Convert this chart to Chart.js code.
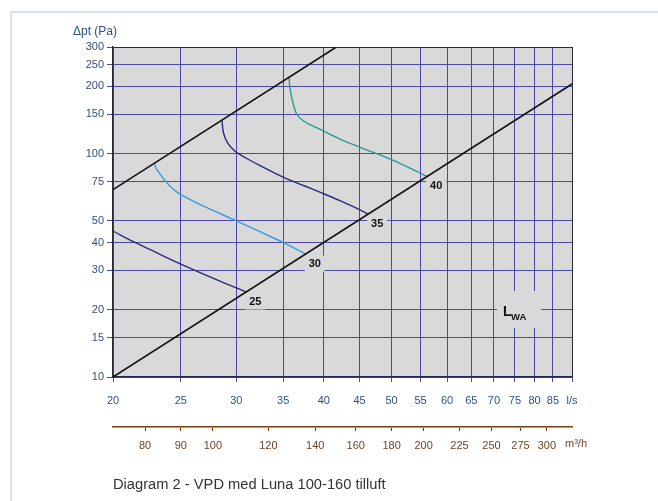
<!DOCTYPE html>
<html><head><meta charset="utf-8">
<script src="https://cdn.jsdelivr.net/npm/chart.js@4"></script>
<style>html,body{margin:0;padding:0;background:#fff;} canvas{display:block}</style>
</head><body>
<canvas id="c" width="658" height="501"></canvas>
<script>
// ---- data ----
const xTicksLs = [20,25,30,35,40,45,50,55,60,65,70,75,80,85];
const xMinLs = 20, xMaxLs = 90.5;
const x2TicksM3h = [80,90,100,120,140,160,180,200,225,250,275,300];
const x2MinM3h = 72, x2MaxM3h = 325.8;
const yTicksPa = [10,15,20,30,40,50,75,100,150,200,250,300];
const yMinPa = 10, yMaxPa = 300;

const lowerLineQ = [20, 90.5];
const lowerLineP = [10, 205];
const upperLineQ = [20, 41.7];
const upperLineP = [69, 300];

const c25Q = [20, 21.5, 23, 25, 28, 31];
const c25P = [45, 40, 36.2, 32, 27.4, 24];
const c30Q = [22.9, 23.1, 23.8, 24.3, 25, 27, 30, 33, 35, 37.7];
const c30P = [90.7, 84.7, 75, 70, 65.5, 58, 50, 43.6, 40, 35.5];
const c35Q = [28.62, 28.76, 29.14, 29.82, 30.92, 32.48, 35, 37.5, 40, 42.5, 45, 46.3];
const c35P = [140.8, 124, 111.9, 103, 95.8, 88.2, 78.4, 71.8, 66.1, 60.9, 56.1, 53.6];
const c40Q = [35.7, 35.77, 36.06, 36.6, 37.3, 38.3, 40, 42.5, 45, 50, 56.2];
const c40P = [218, 200, 174, 150, 141, 134.5, 126, 115, 107, 94, 79];
const curveLabels = ['25','30','35','40'];

const FONT = '"Liberation Sans", Arial, sans-serif';
const BLUE_TXT = '#30507f';
const BROWN_TXT = '#6e4426';
const GRID = '#4a4aa6';
const FRAME = '#2a2a3a';

function pts(q, p){ return q.map((v,i)=>({x:v, y:p[i]})); }

const curves = [
  {q:c25Q, p:c25P, color:'#2b2b7d'},
  {q:c30Q, p:c30P, color:'#3b9be0'},
  {q:c35Q, p:c35P, color:'#2b2b7d'},
  {q:c40Q, p:c40P, color:'#2a9a90'}
];

const datasets = [
  {data:pts(lowerLineQ, lowerLineP), borderColor:'#111', borderWidth:1.6, tension:0},
  {data:pts(upperLineQ, upperLineP), borderColor:'#111', borderWidth:1.6, tension:0},
].concat(curves.map(c=>({data:pts(c.q,c.p), borderColor:c.color, borderWidth:1.4, tension:0.35})));
datasets.forEach(d=>{ d.showLine=true; d.pointRadius=0; d.fill=false; });

function labelBox(chart, i){
  const c = curves[i];
  const n = c.q.length-1;
  const px = chart.scales.x.getPixelForValue(c.q[n]);
  const py = chart.scales.y.getPixelForValue(c.p[n]);
  return {x: px+9, y: py+9.5};
}

const deco = {
  id:'deco',
  beforeDraw(chart){
    const ctx = chart.ctx, a = chart.chartArea;
    ctx.save();
    ctx.fillStyle = '#fff'; ctx.fillRect(0,0,chart.width,chart.height);
    ctx.strokeStyle = '#dde0f2'; ctx.lineWidth = 2;
    ctx.beginPath(); ctx.moveTo(11, chart.height); ctx.lineTo(11, 12); ctx.lineTo(chart.width, 12); ctx.stroke();
    ctx.fillStyle = '#d9d9d9';
    ctx.fillRect(a.left, a.top, a.right-a.left, a.bottom-a.top);
    ctx.restore();
  },
  beforeDatasetsDraw(chart){
    const ctx = chart.ctx;
    ctx.save();
    ctx.fillStyle = '#d9d9d9';
    for (let i=0;i<curves.length;i++){
      const b = labelBox(chart,i);
      ctx.fillRect(b.x-10, b.y-8, 20, 16);
    }
    ctx.fillRect(497, 291, 44, 37);
    ctx.restore();
  },
  afterDraw(chart){
    const ctx = chart.ctx;
    ctx.save();
    ctx.fillStyle = '#111';
    ctx.font = 'bold 11px ' + FONT;
    ctx.textAlign = 'center'; ctx.textBaseline = 'middle';
    for (let i=0;i<curves.length;i++){
      const b = labelBox(chart,i);
      ctx.fillText(curveLabels[i], b.x, b.y);
    }
    // L_WA
    ctx.textAlign = 'left'; ctx.textBaseline = 'alphabetic';
    ctx.font = 'bold 14px ' + FONT;
    ctx.fillText('L', 503, 316);
    ctx.font = 'bold 9.5px ' + FONT;
    ctx.fillText('WA', 511, 320);
    // axis title
    ctx.fillStyle = BLUE_TXT;
    ctx.font = '12px ' + FONT;
    ctx.fillText('\u0394pt (Pa)', 73, 35);
    // m3/h unit
    ctx.fillStyle = BROWN_TXT;
    ctx.font = '11px ' + FONT;
    ctx.fillText('m\u00B3/h', 565, 447);
    // caption
    ctx.fillStyle = '#333';
    ctx.font = '14.7px ' + FONT;
    ctx.fillText('Diagram 2 - VPD med Luna 100-160 tilluft', 113, 489);
    ctx.restore();
  }
};

new Chart(document.getElementById('c'), {
  type:'scatter',
  data:{datasets},
  plugins:[deco],
  options:{
    responsive:false, animation:false, devicePixelRatio:1,
    layout:{padding:{left:0, right:86, top:47, bottom:44}},
    plugins:{legend:{display:false}, title:{display:false}, tooltip:{enabled:false}},
    scales:{
      x:{
        type:'logarithmic', position:'bottom', weight:0, min:xMinLs, max:xMaxLs,
        afterBuildTicks:s=>{ s.ticks = xTicksLs.concat([xMaxLs]).map(v=>({value:v})); },
        afterFit:s=>{ s.height = 50; },
        ticks:{autoSkip:false, maxRotation:0, padding:12, color:BLUE_TXT, font:{family:FONT, size:11},
          callback:v=> v===xMaxLs ? 'l/s' : String(v)},
        grid:{color:ctx=> (ctx.tick && ctx.tick.value===xMaxLs) ? FRAME : GRID, lineWidth:1, tickLength:5, tickColor:GRID},
        border:{color:'#26265e', width:1.5}
      },
      x2:{
        type:'logarithmic', position:'bottom', weight:1, min:x2MinM3h, max:x2MaxM3h,
        afterBuildTicks:s=>{ s.ticks = x2TicksM3h.map(v=>({value:v})); },
        afterFit:s=>{ s.height = 30; },
        ticks:{autoSkip:false, maxRotation:0, padding:8, color:BROWN_TXT, font:{family:FONT, size:11},
          callback:v=>String(v)},
        grid:{drawOnChartArea:false, color:'#7a3a10', tickLength:4, lineWidth:1},
        border:{color:'#7a3a10', width:1.5}
      },
      y:{
        type:'logarithmic', position:'left', min:yMinPa, max:yMaxPa,
        afterBuildTicks:s=>{ s.ticks = yTicksPa.map(v=>({value:v})); },
        afterFit:s=>{ s.width = 113; },
        ticks:{autoSkip:false, padding:3, color:BLUE_TXT, font:{family:FONT, size:11},
          callback:v=>String(v)},
        grid:{color:ctx=> (ctx.tick && ctx.tick.value===yMaxPa) ? FRAME : GRID, lineWidth:1, tickLength:6, tickColor:GRID},
        border:{color:FRAME, width:1.5}
      }
    }
  }
});
</script>
</body></html>
